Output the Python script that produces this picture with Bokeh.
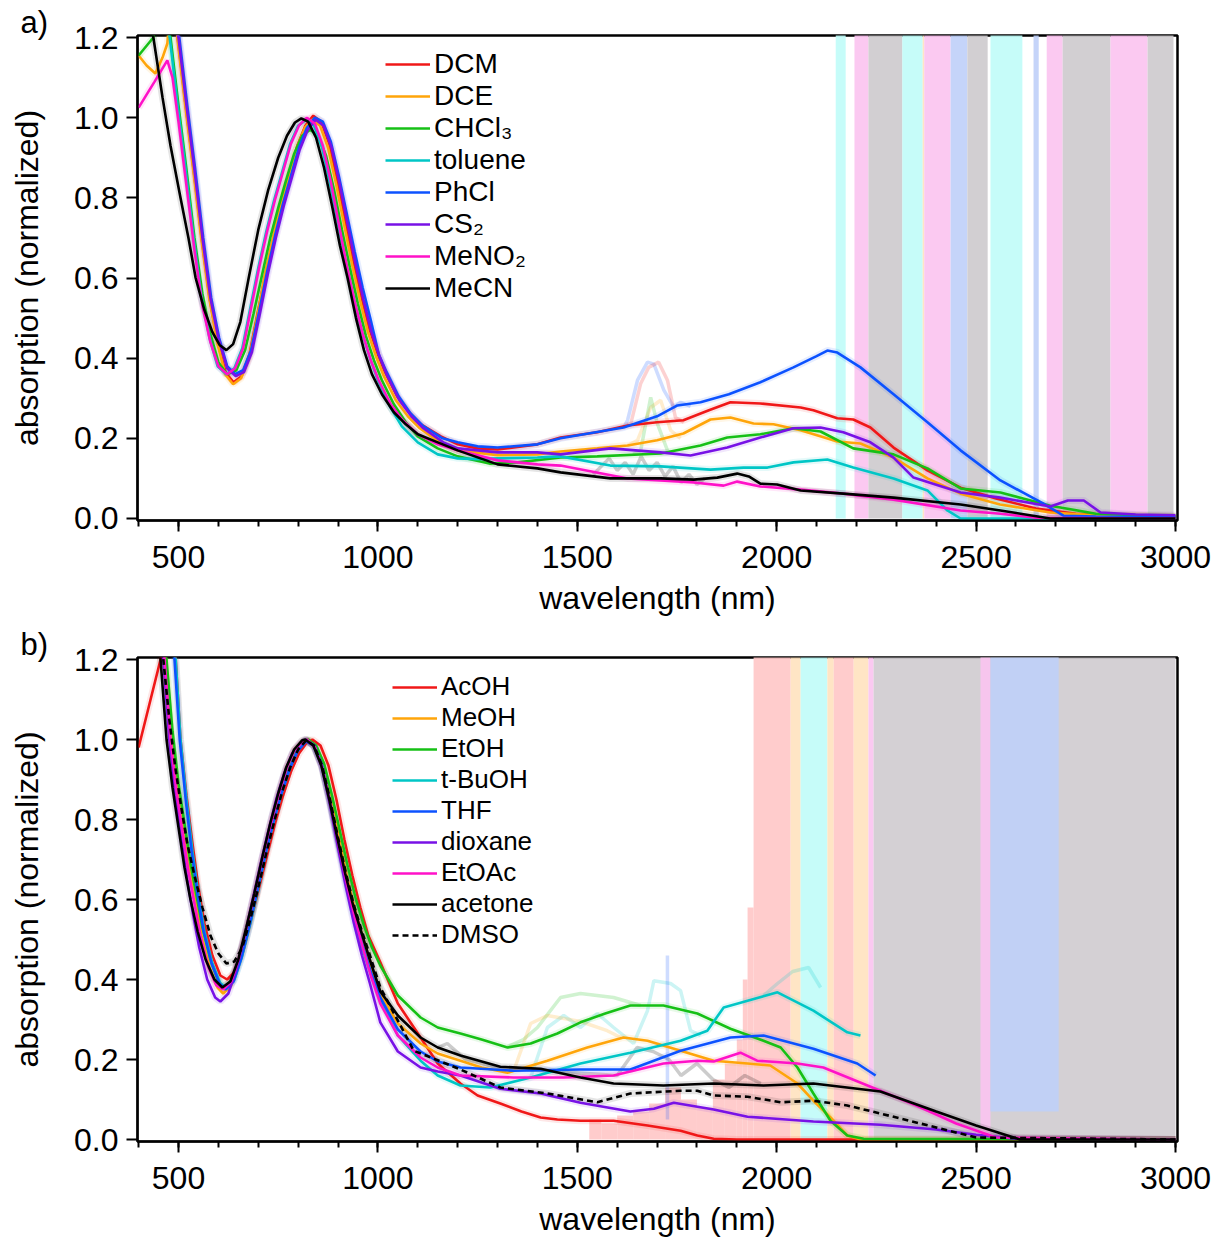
from bokeh.plotting import figure
from bokeh.layouts import column
from bokeh.models import Range1d, FixedTicker, NumeralTickFormatter, Legend, LegendItem
from bokeh.embed import file_html
from bokeh.resources import INLINE

FONT = "Liberation Sans"

# ---------------- axis ticks ----------------
X_TICKS = [500, 1000, 1500, 2000, 2500, 3000]
X_MINOR = list(range(400, 3001, 100))
Y_TICKS = [0.0, 0.2, 0.4, 0.6, 0.8, 1.0, 1.2]

# ---------------- panel a: solvents ----------------
names_a = ["DCM", "DCE", "CHCl3", "toluene", "PhCl", "CS2", "MeNO2", "MeCN"]
labels_a = ["DCM", "DCE", "CHCl\u2083", "toluene", "PhCl", "CS\u2082", "MeNO\u2082", "MeCN"]

dcm_x = [400, 480, 498, 518, 538, 558, 578, 598, 618, 638, 658, 678, 698, 718, 738, 758, 778, 798, 818, 838,
         858, 878, 898, 918, 938, 958, 978, 998, 1018, 1048, 1078, 1108, 1158, 1200, 1250, 1300, 1400, 1458,
         1550, 1626, 1700, 1766, 1830, 1884, 1959, 2060, 2092, 2152, 2192, 2235, 2293, 2378, 2461, 2550, 2650,
         2750, 2850, 3000]
dcm_y = [1.5, 1.5, 1.2, 1.03, 0.87, 0.70, 0.55, 0.44, 0.365, 0.34, 0.355, 0.41, 0.51, 0.61, 0.70, 0.79, 0.86,
         0.93, 0.98, 1.005, 0.99, 0.935, 0.845, 0.745, 0.645, 0.555, 0.475, 0.415, 0.365, 0.305, 0.265, 0.235,
         0.205, 0.185, 0.175, 0.172, 0.185, 0.202, 0.215, 0.232, 0.24, 0.245, 0.27, 0.29, 0.287, 0.277, 0.27,
         0.25, 0.247, 0.227, 0.177, 0.12, 0.077, 0.05, 0.025, 0.012, 0.008, 0.005]

dce_x = [400, 420, 442, 460, 472, 482, 490, 497, 517, 537, 557, 577, 597, 617, 637, 657, 677, 697, 717, 737,
         757, 777, 797, 817, 835, 855, 875, 895, 915, 935, 955, 975, 995, 1015, 1045, 1075, 1105, 1155, 1200,
         1300, 1400, 1458, 1550, 1626, 1700, 1766, 1834, 1884, 1942, 1992, 2060, 2152, 2210, 2293, 2378, 2461,
         2560, 2686, 2800, 3000]
dce_y = [1.155, 1.13, 1.11, 1.15, 1.185, 1.3, 1.3, 1.2, 1.03, 0.87, 0.70, 0.55, 0.44, 0.36, 0.335, 0.35, 0.40,
         0.50, 0.61, 0.70, 0.785, 0.855, 0.925, 0.975, 0.995, 0.98, 0.925, 0.835, 0.735, 0.635, 0.545, 0.465,
         0.405, 0.355, 0.295, 0.255, 0.225, 0.19, 0.17, 0.158, 0.16, 0.167, 0.175, 0.182, 0.195, 0.212, 0.247,
         0.252, 0.237, 0.235, 0.22, 0.192, 0.187, 0.152, 0.1, 0.062, 0.035, 0.015, 0.008, 0.005]

chcl3_x = [400, 437, 455, 480, 500, 520, 540, 560, 580, 600, 622, 645, 667, 688, 710, 730, 750, 770, 790, 810,
           830, 850, 870, 890, 910, 930, 950, 970, 990, 1010, 1040, 1070, 1100, 1150, 1200, 1280, 1350, 1458,
           1550, 1709, 1809, 1876, 1959, 2042, 2110, 2192, 2293, 2378, 2461, 2561, 2686, 2800, 3000]
chcl3_y = [1.155, 1.2, 1.3, 1.2, 1.03, 0.87, 0.70, 0.56, 0.46, 0.39, 0.36, 0.37, 0.42, 0.51, 0.61, 0.70, 0.775,
           0.845, 0.91, 0.955, 0.97, 0.955, 0.905, 0.82, 0.72, 0.625, 0.535, 0.455, 0.395, 0.345, 0.285, 0.24,
           0.205, 0.175, 0.155, 0.137, 0.14, 0.152, 0.155, 0.162, 0.182, 0.202, 0.21, 0.225, 0.217, 0.175, 0.16,
           0.125, 0.075, 0.065, 0.032, 0.012, 0.005]

tol_x = [400, 478, 498, 518, 538, 558, 578, 598, 620, 640, 660, 680, 700, 720, 740, 760, 780, 800, 820, 840,
         860, 880, 900, 920, 940, 960, 980, 1000, 1030, 1060, 1100, 1150, 1200, 1250, 1300, 1400, 1458, 1583,
         1709, 1834, 1917, 1977, 2042, 2127, 2192, 2293, 2378, 2428, 2461, 3000]
tol_y = [1.5, 1.2, 1.03, 0.87, 0.70, 0.55, 0.45, 0.38, 0.36, 0.375, 0.425, 0.525, 0.625, 0.715, 0.795, 0.865,
         0.935, 0.98, 0.995, 0.98, 0.925, 0.835, 0.735, 0.635, 0.545, 0.465, 0.40, 0.345, 0.28, 0.23, 0.19,
         0.16, 0.15, 0.148, 0.15, 0.152, 0.155, 0.132, 0.13, 0.122, 0.127, 0.127, 0.14, 0.147, 0.127, 0.1,
         0.07, 0.02, 0.0, 0.0]

phcl_x = [400, 502, 522, 542, 562, 582, 602, 622, 642, 662, 682, 702, 722, 742, 762, 782, 802, 822, 842, 862,
          882, 902, 922, 942, 962, 982, 1002, 1022, 1052, 1082, 1112, 1162, 1200, 1250, 1300, 1400, 1458, 1616,
          1700, 1751, 1809, 1880, 1959, 2042, 2100, 2127, 2152, 2210, 2293, 2378, 2461, 2561, 2669, 2719, 2800,
          3000]
phcl_y = [1.5, 1.2, 1.03, 0.87, 0.70, 0.55, 0.45, 0.38, 0.36, 0.37, 0.42, 0.515, 0.615, 0.705, 0.785, 0.855,
          0.925, 0.975, 1.0, 0.99, 0.94, 0.855, 0.76, 0.665, 0.575, 0.495, 0.41, 0.365, 0.305, 0.262, 0.232,
          0.2, 0.19, 0.18, 0.177, 0.185, 0.2, 0.227, 0.255, 0.282, 0.29, 0.31, 0.34, 0.377, 0.405, 0.419,
          0.414, 0.377, 0.31, 0.24, 0.17, 0.095, 0.037, 0.007, 0.005, 0.003]

cs2_x = [400, 500, 520, 540, 560, 580, 600, 622, 644, 664, 684, 704, 724, 744, 764, 784, 804, 824, 844, 864,
         884, 904, 924, 944, 964, 984, 1004, 1024, 1054, 1084, 1114, 1164, 1200, 1300, 1400, 1458, 1583, 1709,
         1784, 1876, 1959, 2042, 2110, 2167, 2235, 2293, 2343, 2461, 2561, 2686, 2730, 2770, 2812, 2900, 3000]
cs2_y = [1.5, 1.2, 1.03, 0.87, 0.70, 0.55, 0.45, 0.375, 0.355, 0.365, 0.415, 0.51, 0.61, 0.70, 0.78, 0.85,
         0.92, 0.97, 0.995, 0.98, 0.925, 0.835, 0.735, 0.635, 0.545, 0.465, 0.405, 0.355, 0.295, 0.255, 0.225,
         0.19, 0.175, 0.165, 0.165, 0.16, 0.175, 0.165, 0.157, 0.177, 0.202, 0.225, 0.227, 0.215, 0.19, 0.152,
         0.102, 0.065, 0.052, 0.03, 0.045, 0.045, 0.015, 0.01, 0.008]

meno2_x = [400, 440, 472, 485, 500, 520, 540, 560, 580, 600, 622, 642, 662, 682, 702, 722, 742, 762, 782, 802,
           822, 842, 862, 882, 902, 922, 942, 962, 982, 1002, 1032, 1062, 1100, 1150, 1200, 1300, 1400, 1458,
           1626, 1792, 1867, 1901, 1959, 2060, 2167, 2293, 2461, 2561, 2650, 3000]
meno2_y = [1.025, 1.09, 1.143, 1.1, 0.99, 0.83, 0.67, 0.53, 0.44, 0.38, 0.36, 0.375, 0.425, 0.525, 0.625,
           0.715, 0.795, 0.865, 0.935, 0.98, 1.0, 0.985, 0.93, 0.84, 0.735, 0.63, 0.54, 0.46, 0.395, 0.345,
           0.285, 0.245, 0.21, 0.185, 0.17, 0.145, 0.135, 0.132, 0.1, 0.09, 0.082, 0.092, 0.08, 0.072, 0.062,
           0.047, 0.02, 0.012, 0.002, 0.0]

mecn_x = [400, 437, 460, 480, 505, 525, 543, 565, 585, 603, 620, 637, 655, 676, 700, 725, 750, 772, 792, 808,
          825, 845, 865, 885, 905, 924, 945, 965, 985, 1010, 1040, 1070, 1100, 1150, 1200, 1300, 1400, 1458,
          1583, 1709, 1792, 1851, 1901, 1930, 1959, 2001, 2060, 2167, 2293, 2461, 2561, 2686, 3000]
mecn_y = [1.5, 1.2, 1.05, 0.93, 0.8, 0.7, 0.6, 0.52, 0.465, 0.433, 0.42, 0.435, 0.49, 0.6, 0.72, 0.82, 0.9,
          0.955, 0.988, 0.998, 0.99, 0.95, 0.875, 0.78, 0.68, 0.6, 0.5, 0.42, 0.36, 0.31, 0.265, 0.235, 0.21,
          0.19, 0.17, 0.135, 0.125, 0.115, 0.1, 0.1, 0.097, 0.102, 0.112, 0.105, 0.087, 0.085, 0.07, 0.062,
          0.052, 0.035, 0.02, 0.0, 0.0]

# raw (unsmoothed) traces, panel a
raw_a_phcl_x = [1616, 1626, 1651, 1676, 1692, 1717, 1742, 1759, 1784]
raw_a_phcl_y = [0.227, 0.245, 0.345, 0.39, 0.385, 0.32, 0.277, 0.29, 0.28]
raw_a_dcm_x = [1626, 1634, 1659, 1679, 1704, 1726, 1746, 1767]
raw_a_dcm_y = [0.233, 0.236, 0.337, 0.377, 0.39, 0.345, 0.252, 0.24]
raw_a_dce_x = [1626, 1651, 1684, 1709, 1734, 1759]
raw_a_dce_y = [0.182, 0.195, 0.277, 0.295, 0.22, 0.2]
raw_a_chcl3_x = [1640, 1659, 1684, 1701, 1726]
raw_a_chcl3_y = [0.16, 0.17, 0.302, 0.236, 0.17]
raw_a_mecn_x = [1540, 1560, 1580, 1600, 1620, 1640, 1660, 1680, 1700, 1720, 1740, 1760, 1780, 1800, 1820]
raw_a_mecn_y = [0.11, 0.13, 0.15, 0.12, 0.14, 0.11, 0.155, 0.12, 0.14, 0.105, 0.13, 0.09, 0.11, 0.085, 0.1]

# noisy region (detector cut-off), panel a: wavelength span and solvent
noise_a_start = [2148, 2195, 2230, 2315, 2366, 2370, 2436, 2478, 2536, 2644, 2677, 2717, 2837, 2930]
noise_a_end = [2173, 2230, 2315, 2366, 2370, 2436, 2478, 2529, 2616, 2657, 2717, 2837, 2930, 2995]
noise_a_solvent = ["toluene", "MeNO2", "MeCN", "toluene", "DCE", "MeNO2", "PhCl", "MeCN", "toluene", "PhCl",
                   "MeNO2", "MeCN", "MeNO2", "MeCN"]
noise_a_low = [0.0, 0.0, 0.0, 0.0, 0.0, 0.0, 0.0, 0.0, 0.0, 0.0, 0.0, 0.0, 0.0, 0.0]
noise_a_high = [1.3, 1.3, 1.3, 1.3, 1.3, 1.3, 1.3, 1.3, 1.3, 1.3, 1.3, 1.3, 1.3, 1.3]

# ---------------- panel b: solvents ----------------
names_b = ["AcOH", "MeOH", "EtOH", "tBuOH", "THF", "dioxane", "EtOAc", "acetone", "DMSO"]
labels_b = ["AcOH", "MeOH", "EtOH", "t-BuOH", "THF", "dioxane", "EtOAc", "acetone", "DMSO"]

acoh_x = [400, 430, 455, 470, 490, 493, 505, 520, 535, 550, 565, 585, 605, 622, 642, 662, 682, 702, 722, 742,
          762, 782, 802, 820, 836, 856, 876, 896, 916, 936, 956, 976, 1006, 1050, 1107, 1150, 1207, 1250, 1307,
          1360, 1408, 1450, 1508, 1591, 1676, 1759, 1801, 1842, 1900, 3000]
acoh_y = [0.98, 1.1, 1.2, 1.35, 1.35, 1.2, 1.0, 0.86, 0.74, 0.63, 0.54, 0.46, 0.41, 0.40, 0.42, 0.47, 0.55,
          0.63, 0.71, 0.79, 0.86, 0.92, 0.965, 0.99, 1.0, 0.985, 0.935, 0.85, 0.75, 0.66, 0.58, 0.51, 0.443,
          0.34, 0.255, 0.19, 0.14, 0.11, 0.09, 0.07, 0.055, 0.05, 0.047, 0.047, 0.035, 0.022, 0.01, 0.002, 0.0,
          0.0]

meoh_x = [440, 468, 483, 498, 513, 528, 543, 558, 578, 598, 612, 632, 652, 672, 692, 712, 732, 752, 772, 792,
          812, 825, 845, 865, 885, 905, 925, 945, 965, 985, 1006, 1050, 1107, 1150, 1207, 1260, 1325, 1425, 1525,
          1616, 1676, 1759, 1842, 1927, 1984, 2052, 2092, 2135, 2177, 2210, 3000]
meoh_y = [1.4, 1.2, 1.0, 0.87, 0.77, 0.67, 0.59, 0.51, 0.43, 0.38, 0.365, 0.385, 0.445, 0.525, 0.61, 0.70,
          0.785, 0.865, 0.93, 0.975, 0.995, 1.0, 0.98, 0.93, 0.84, 0.74, 0.645, 0.565, 0.495, 0.43, 0.365,
          0.29, 0.24, 0.215, 0.197, 0.18, 0.167, 0.197, 0.23, 0.255, 0.247, 0.222, 0.197, 0.19, 0.185, 0.14,
          0.097, 0.055, 0.01, 0.0, 0.0]

etoh_x = [440, 470, 485, 500, 515, 530, 545, 560, 580, 600, 615, 635, 655, 675, 695, 715, 735, 755, 775, 795,
          815, 825, 845, 865, 885, 905, 925, 945, 965, 985, 1006, 1050, 1107, 1150, 1207, 1260, 1325, 1383, 1450,
          1508, 1570, 1633, 1716, 1801, 1884, 1967, 2010, 2052, 2092, 2135, 2177, 2218, 3000]
etoh_y = [1.4, 1.2, 1.02, 0.89, 0.79, 0.69, 0.61, 0.53, 0.45, 0.395, 0.38, 0.40, 0.46, 0.54, 0.62, 0.71,
          0.79, 0.87, 0.93, 0.975, 0.995, 1.0, 0.985, 0.94, 0.86, 0.77, 0.68, 0.60, 0.535, 0.48, 0.435, 0.36,
          0.305, 0.28, 0.265, 0.25, 0.23, 0.24, 0.265, 0.293, 0.315, 0.335, 0.335, 0.315, 0.277, 0.247, 0.23,
          0.18, 0.115, 0.047, 0.01, 0.002, 0.0]

tbuoh_x = [430, 493, 505, 520, 535, 550, 565, 585, 605, 620, 640, 660, 680, 700, 720, 740, 760, 780, 800, 820,
           840, 860, 880, 900, 920, 940, 960, 980, 1006, 1050, 1107, 1150, 1207, 1282, 1383, 1508, 1633, 1759,
           1826, 1867, 1927, 2002, 2092, 2177, 2210]
tbuoh_y = [1.5, 1.2, 1.0, 0.85, 0.72, 0.61, 0.52, 0.44, 0.39, 0.38, 0.40, 0.46, 0.54, 0.63, 0.72, 0.80,
           0.87, 0.93, 0.975, 1.0, 0.985, 0.935, 0.845, 0.74, 0.64, 0.55, 0.48, 0.42, 0.347, 0.26, 0.197, 0.16,
           0.135, 0.13, 0.155, 0.19, 0.217, 0.247, 0.272, 0.33, 0.347, 0.368, 0.322, 0.268, 0.26]

thf_x = [430, 490, 503, 518, 533, 548, 563, 583, 603, 618, 638, 658, 678, 698, 718, 738, 758, 778, 798, 820,
         840, 860, 880, 900, 920, 940, 960, 980, 1006, 1050, 1107, 1150, 1207, 1340, 1508, 1633, 1759, 1884,
         1967, 2092, 2202, 2248]
thf_y = [1.5, 1.2, 1.0, 0.85, 0.72, 0.61, 0.52, 0.44, 0.39, 0.375, 0.395, 0.455, 0.535, 0.625, 0.715, 0.795,
         0.865, 0.925, 0.97, 0.995, 0.985, 0.935, 0.845, 0.745, 0.65, 0.565, 0.49, 0.425, 0.355, 0.275, 0.22,
         0.195, 0.18, 0.172, 0.175, 0.175, 0.222, 0.255, 0.26, 0.227, 0.19, 0.16]

diox_x = [440, 462, 477, 492, 507, 522, 537, 552, 572, 592, 605, 625, 645, 665, 685, 705, 725, 745, 765, 785,
          805, 820, 840, 860, 880, 900, 920, 940, 960, 980, 1006, 1050, 1107, 1150, 1207, 1307, 1408, 1508, 1633,
          1692, 1742, 1842, 1927, 2092, 2260, 2400, 2500, 2600, 3000]
diox_y = [1.4, 1.2, 1.0, 0.86, 0.75, 0.65, 0.56, 0.48, 0.40, 0.355, 0.345, 0.365, 0.425, 0.505, 0.595, 0.685,
          0.77, 0.85, 0.915, 0.965, 0.99, 1.0, 0.985, 0.93, 0.835, 0.73, 0.63, 0.54, 0.46, 0.39, 0.293, 0.22,
          0.18, 0.17, 0.16, 0.127, 0.115, 0.092, 0.07, 0.077, 0.092, 0.075, 0.057, 0.045, 0.037, 0.025, 0.012,
          0.002, 0.0]

etoac_x = [440, 465, 480, 495, 510, 525, 540, 555, 575, 595, 612, 632, 652, 672, 692, 712, 732, 752, 772, 792,
           812, 822, 842, 862, 882, 902, 922, 942, 962, 982, 1006, 1050, 1107, 1150, 1207, 1340, 1466, 1591, 1716,
           1801, 1842, 1909, 1951, 2052, 2117, 2260, 2350, 2450, 2550, 3000]
etoac_y = [1.4, 1.2, 1.0, 0.87, 0.77, 0.67, 0.59, 0.51, 0.43, 0.385, 0.375, 0.395, 0.455, 0.535, 0.62, 0.71,
           0.79, 0.865, 0.93, 0.975, 0.995, 1.0, 0.98, 0.925, 0.835, 0.735, 0.64, 0.555, 0.48, 0.41, 0.34, 0.26,
           0.205, 0.18, 0.16, 0.155, 0.155, 0.16, 0.19, 0.197, 0.195, 0.217, 0.197, 0.19, 0.18, 0.122, 0.085,
           0.04, 0.005, 0.0]

acet_x = [430, 455, 470, 485, 500, 515, 530, 548, 568, 590, 610, 630, 650, 670, 690, 710, 730, 750, 770, 790,
          810, 818, 838, 858, 878, 898, 918, 938, 958, 978, 1006, 1050, 1107, 1150, 1207, 1307, 1408, 1508, 1591,
          1716, 1842, 1967, 2092, 2260, 2400, 2500, 2610, 3000]
acet_y = [1.4, 1.2, 1.0, 0.88, 0.78, 0.68, 0.60, 0.52, 0.45, 0.40, 0.38, 0.395, 0.45, 0.53, 0.615, 0.705,
          0.79, 0.865, 0.93, 0.975, 0.998, 1.0, 0.985, 0.935, 0.85, 0.755, 0.665, 0.585, 0.52, 0.455, 0.37,
          0.31, 0.255, 0.23, 0.21, 0.182, 0.177, 0.155, 0.14, 0.135, 0.14, 0.135, 0.14, 0.12, 0.07, 0.035, 0.0,
          0.0]

dmso_x = [440, 462, 477, 492, 507, 522, 540, 560, 580, 600, 620, 640, 660, 680, 700, 720, 740, 760, 780, 800,
          820, 840, 860, 880, 900, 920, 940, 960, 980, 1006, 1090, 1207, 1307, 1425, 1550, 1633, 1759, 1801,
          1842, 1927, 2010, 2092, 2177, 2260, 2400, 2500, 3000]
dmso_y = [1.4, 1.2, 1.05, 0.93, 0.83, 0.74, 0.66, 0.58, 0.51, 0.465, 0.44, 0.445, 0.48, 0.55, 0.63, 0.715,
          0.795, 0.87, 0.93, 0.975, 0.998, 0.985, 0.935, 0.85, 0.755, 0.665, 0.585, 0.52, 0.46, 0.38, 0.222,
          0.175, 0.13, 0.115, 0.093, 0.115, 0.122, 0.122, 0.11, 0.107, 0.093, 0.097, 0.085, 0.065, 0.03, 0.005,
          0.0]

# raw traces, panel b
raw_b_etoh_x = [1325, 1365, 1400, 1458, 1508, 1591, 1659]
raw_b_etoh_y = [0.232, 0.25, 0.28, 0.355, 0.365, 0.355, 0.335]
raw_b_tbuoh_x = [1383, 1425, 1466, 1508, 1550, 1591, 1641, 1676, 1692, 1734, 1759, 1784, 1809]
raw_b_tbuoh_y = [0.155, 0.28, 0.31, 0.28, 0.315, 0.28, 0.24, 0.322, 0.397, 0.39, 0.372, 0.272, 0.26]
raw_b_tbuoh2_x = [1967, 2002, 2040, 2080, 2110]
raw_b_tbuoh2_y = [0.36, 0.39, 0.42, 0.43, 0.38]
raw_b_meoh_x = [1340, 1383, 1425, 1508, 1575, 1609]
raw_b_meoh_y = [0.17, 0.29, 0.31, 0.295, 0.272, 0.255]
raw_b_acet_x = [1150, 1174, 1220, 1300, 1600, 1650, 1690, 1730, 1760, 1800, 1840, 1880, 1920, 1960]
raw_b_acet_y = [0.23, 0.24, 0.2, 0.18, 0.16, 0.23, 0.22, 0.2, 0.16, 0.19, 0.15, 0.13, 0.16, 0.14]
raw_b_thf_x = [1726, 1726]
raw_b_thf_y = [0.05, 0.46]

# noisy region, panel b
noise_b_start = [1530, 1560, 1600, 1640, 1680, 1720, 1760, 1800, 1840, 1870, 1900, 1915, 1927, 1942, 2035,
                 2060, 2127, 2143, 2193, 2230, 2243, 2511, 2536]
noise_b_end = [1560, 1600, 1640, 1680, 1720, 1760, 1800, 1840, 1870, 1900, 1915, 1927, 1942, 2035, 2060,
               2127, 2143, 2193, 2230, 2243, 3000, 2536, 2707]
noise_b_solvent = ["AcOH", "AcOH", "AcOH", "AcOH", "AcOH", "AcOH", "AcOH", "AcOH", "AcOH", "AcOH", "AcOH",
                   "AcOH", "AcOH", "AcOH", "MeOH", "tBuOH", "MeOH", "AcOH", "MeOH", "EtOAc", "acetone",
                   "EtOAc", "THF"]
noise_b_low = [0.0, 0.0, 0.0, 0.0, 0.0, 0.0, 0.0, 0.0, 0.0, 0.0, 0.0, 0.0, 0.0, 0.0, 0.0, 0.0, 0.0, 0.0,
               0.0, 0.0, 0.0, 0.0, 0.07]
noise_b_high = [0.05, 0.04, 0.06, 0.07, 0.09, 0.13, 0.10, 0.08, 0.15, 0.19, 0.25, 0.40, 0.58, 1.3, 1.3, 1.3,
                1.3, 1.3, 1.3, 1.3, 1.3, 1.3, 1.3]

# ---------------- styles ----------------
COLOR = {"DCM": "#f01818", "DCE": "#ffa50a", "CHCl3": "#16c016", "toluene": "#00c6c6", "PhCl": "#0c52ff",
         "CS2": "#7812e6", "MeNO2": "#ff12c8", "MeCN": "#000000",
         "AcOH": "#f01818", "MeOH": "#ffa50a", "EtOH": "#16c016", "tBuOH": "#00c6c6", "THF": "#0c52ff",
         "dioxane": "#7812e6", "EtOAc": "#ff12c8", "acetone": "#000000", "DMSO": "#000000"}
PALE = {"DCM": "#ffc6c6", "DCE": "#ffe2bf", "CHCl3": "#c6f4c6", "toluene": "#c0fcf8", "PhCl": "#bfcff8",
        "CS2": "#d8c6f6", "MeNO2": "#fbc3ef", "MeCN": "#cdcacd",
        "AcOH": "#ffc6c6", "MeOH": "#ffe2bf", "EtOH": "#c6f4c6", "tBuOH": "#c0fcf8", "THF": "#bfcff8",
        "dioxane": "#d8c6f6", "EtOAc": "#fbc3ef", "acetone": "#cfcbcf", "DMSO": "#cdcacd"}

series_a = [dict(zip(["x", "y"], p)) for p in [(dcm_x, dcm_y), (dce_x, dce_y), (chcl3_x, chcl3_y),
                                              (tol_x, tol_y), (phcl_x, phcl_y), (cs2_x, cs2_y),
                                              (meno2_x, meno2_y), (mecn_x, mecn_y)]]
series_b = [dict(zip(["x", "y"], p)) for p in [(acoh_x, acoh_y), (meoh_x, meoh_y), (etoh_x, etoh_y),
                                              (tbuoh_x, tbuoh_y), (thf_x, thf_y), (diox_x, diox_y),
                                              (etoac_x, etoac_y), (acet_x, acet_y), (dmso_x, dmso_y)]]
raw_a = [("PhCl", raw_a_phcl_x, raw_a_phcl_y), ("DCM", raw_a_dcm_x, raw_a_dcm_y),
         ("DCE", raw_a_dce_x, raw_a_dce_y), ("CHCl3", raw_a_chcl3_x, raw_a_chcl3_y),
         ("MeCN", raw_a_mecn_x, raw_a_mecn_y)]
raw_b = [("EtOH", raw_b_etoh_x, raw_b_etoh_y), ("tBuOH", raw_b_tbuoh_x, raw_b_tbuoh_y),
         ("tBuOH", raw_b_tbuoh2_x, raw_b_tbuoh2_y), ("MeOH", raw_b_meoh_x, raw_b_meoh_y),
         ("acetone", raw_b_acet_x, raw_b_acet_y), ("THF", raw_b_thf_x, raw_b_thf_y)]


def make_panel(tag, top, frame_h, names, labels, series, raw, n_start, n_end, n_solv, n_low, n_high,
               legend_xy, legend_font):
    p = figure(width=1217, height=620, output_backend="svg", toolbar_location=None,
               x_range=Range1d(397.2, 3005), y_range=Range1d(-0.005, 1.205),
               min_border_left=137, min_border_right=40, min_border_top=top,
               min_border_bottom=620 - top - frame_h)
    p.xgrid.visible = False
    p.ygrid.visible = False
    p.outline_line_color = "black"
    p.outline_line_width = 2.5
    p.outline_line_alpha = 1.0
    # panel tag as a left-aligned title shifted into the left margin
    p.title.text = tag
    p.title.align = "left"
    p.title.offset = -117
    p.title.standoff = -8
    p.title.text_font = FONT
    p.title.text_font_size = "31px"
    p.title.text_font_style = "normal"
    p.title.text_color = "black"
    xa, ya = p.xaxis[0], p.yaxis[0]
    xa.ticker = FixedTicker(ticks=X_TICKS, minor_ticks=X_MINOR)
    ya.ticker = FixedTicker(ticks=Y_TICKS, minor_ticks=[])
    ya.formatter = NumeralTickFormatter(format="0.0")
    for ax in (xa, ya):
        ax.axis_line_color = "black"
        ax.axis_line_width = 2
        ax.major_tick_line_width = 2
        ax.minor_tick_line_width = 2
        ax.major_tick_in = 0
        ax.minor_tick_in = 0
        ax.major_tick_out = 11
        ax.minor_tick_out = 6
        ax.major_label_text_font = FONT
        ax.major_label_text_font_size = "32px"
        ax.major_label_text_color = "black"
        ax.axis_label_text_font = FONT
        ax.axis_label_text_font_size = "32px"
        ax.axis_label_text_font_style = "normal"
        ax.axis_label_text_color = "black"
    xa.axis_label = "wavelength (nm)"
    ya.axis_label = "absorption (normalized)"
    xa.major_label_standoff = 14
    xa.axis_label_standoff = 9
    ya.major_label_standoff = 8
    ya.axis_label_standoff = 26

    # noisy cut-off region
    p.quad(left=n_start, right=n_end, bottom=n_low, top=n_high,
           fill_color=[PALE[s] for s in n_solv], line_color=None, fill_alpha=0.9)
    # raw traces
    for s, rx, ry in raw:
        p.line(rx, ry, line_color=COLOR[s], line_alpha=0.2, line_width=3.5)
    # halos
    for nm, d in zip(names, series):
        p.line(d["x"], d["y"], line_color=COLOR[nm], line_alpha=0.1, line_width=7)
    items = []
    for nm, lb, d in zip(names, labels, series):
        dash = "6 4" if nm == "DMSO" else "solid"
        r = p.line(d["x"], d["y"], line_color=COLOR[nm], line_width=2.6, line_dash=dash)
        items.append(LegendItem(label=lb, renderers=[r]))
    leg = Legend(items=items, location=legend_xy, orientation="vertical",
                 border_line_alpha=0, background_fill_alpha=0, padding=0, margin=0, spacing=0,
                 glyph_width=45, glyph_height=26, label_standoff=4,
                 label_text_font=FONT, label_text_font_size=legend_font, label_text_color="black")
    p.add_layout(leg, "center")
    return p


pa = make_panel("a)", 35, 485, names_a, labels_a, series_a, raw_a, noise_a_start, noise_a_end,
                noise_a_solvent, noise_a_low, noise_a_high, (248, 216), "28px")
pb = make_panel("b)", 37, 484, names_b, labels_b, series_b, raw_b, noise_b_start, noise_b_end,
                noise_b_solvent, noise_b_low, noise_b_high, (255, 191), "26px")

layout = column(pa, pb, spacing=0)
open("out.html", "w").write(file_html(layout, INLINE))
